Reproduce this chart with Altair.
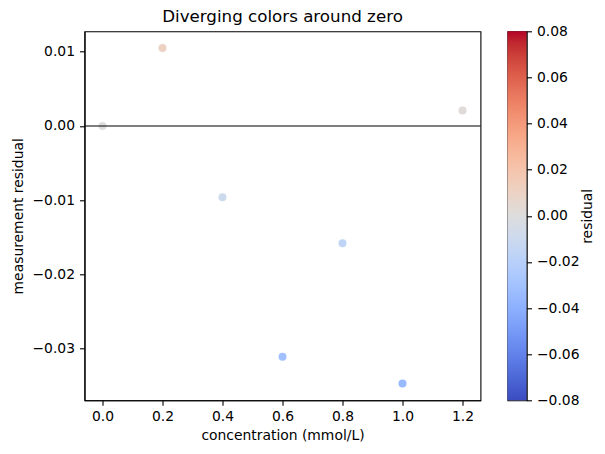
import altair as alt
import pandas as pd

# ---- data ----
concentration = [0.0, 0.2, 0.4, 0.6, 0.8, 1.0, 1.2]
residual = [0.0, 0.0105, -0.0096, -0.0311, -0.0158, -0.0347, 0.0021]
x_ticks = [0.0, 0.2, 0.4, 0.6, 0.8, 1.0, 1.2]
y_ticks = [-0.03, -0.02, -0.01, 0.0, 0.01]
cbar_ticks = [-0.08, -0.06, -0.04, -0.02, 0.0, 0.02, 0.04, 0.06, 0.08]
reference_level = [0.0]
color_limits = [-0.08, 0.08]

# ---- style: matplotlib "coolwarm" colormap stops ----
COOLWARM = [
    "#3b4cc0", "#445acc", "#4d68d7", "#5775e1", "#6282ea", "#6c8ef1", "#779af7",
    "#82a5fb", "#8db0fe", "#98b9ff", "#a3c2ff", "#aec9fd", "#b8d0f9", "#c2d5f4",
    "#ccd9ee", "#d5dbe6", "#dddddd", "#e5d8d1", "#ecd3c5", "#f1ccb8", "#f5c4ac",
    "#f7bb9f", "#f7b193", "#f7a686", "#f49a7b", "#f18d6f", "#ec7f63", "#e57059",
    "#de604d", "#d55042", "#cb3e38", "#c0282f", "#b40426",
]
n = len(COOLWARM)
cmap_domain = [color_limits[0] + (color_limits[1] - color_limits[0]) * i / (n - 1) for i in range(n)]
gradient = {
    "gradient": "linear",
    "x1": 0, "x2": 0, "y1": 1, "y2": 0,
    "stops": [{"offset": i / (n - 1), "color": c} for i, c in enumerate(COOLWARM)],
}

# matplotlib-like 5% margins
xlo, xhi = min(concentration), max(concentration)
xpad = 0.05 * (xhi - xlo)
ylo, yhi = min(residual), max(residual)
ypad = 0.05 * (yhi - ylo)

df = pd.DataFrame({"concentration": concentration, "residual": residual})
ref = pd.DataFrame({"residual": reference_level})
cbar_df = pd.DataFrame({"lo": [color_limits[0]], "hi": [color_limits[1]]})

FONT = "DejaVu Sans"
FS = 13.9

points = alt.Chart(df).mark_circle(size=64, opacity=1).encode(
    x=alt.X(
        "concentration:Q",
        scale=alt.Scale(domain=[xlo - xpad, xhi + xpad], nice=False, zero=False),
        axis=alt.Axis(values=x_ticks, format=".1f", title="concentration (mmol/L)"),
    ),
    y=alt.Y(
        "residual:Q",
        scale=alt.Scale(domain=[ylo - ypad, yhi + ypad], nice=False, zero=False),
        axis=alt.Axis(values=y_ticks, format=".2f", title="measurement residual"),
    ),
    color=alt.Color(
        "residual:Q",
        scale=alt.Scale(domain=cmap_domain, range=COOLWARM, interpolate="rgb"),
        legend=None,
    ),
)

rule = alt.Chart(ref).mark_rule(color="black", strokeWidth=1.1).encode(
    y=alt.Y("residual:Q", title="measurement residual")
)

main = alt.layer(points, rule).properties(
    width=396,
    height=369,
    title=alt.TitleParams(
        "Diverging colors around zero",
        fontSize=16.7,
        fontWeight="normal",
        font=FONT,
        color="black",
        anchor="middle",
        offset=6,
    ),
)

cbar = alt.Chart(cbar_df).mark_rect(color=gradient).encode(
    y=alt.Y(
        "lo:Q",
        scale=alt.Scale(domain=color_limits, nice=False, zero=False),
        axis=alt.Axis(
            orient="right",
            values=cbar_ticks,
            format=".2f",
            title="residual",
            titleAngle=270,
            titleBaseline="top",
            titlePadding=1,
        ),
    ),
    y2="hi:Q",
).properties(width=19, height=369)

chart = (
    alt.hconcat(main, cbar, spacing=24)
    .properties(padding={"left": 10.5, "top": 7.3, "right": 8, "bottom": 8})
    .configure(font=FONT)
    .configure_view(stroke="black", strokeWidth=1.1)
    .configure_axis(
        grid=False,
        domainColor="black",
        domainWidth=1.1,
        tickColor="black",
        tickWidth=1.1,
        labelColor="black",
        titleColor="black",
        labelFont=FONT,
        titleFont=FONT,
        labelFontSize=FS,
        titleFontSize=FS,
        titleFontWeight="normal",
        tickSize=5,
    )
    .configure_axisX(labelPadding=4, titlePadding=5)
    .configure_axisY(labelPadding=5, titlePadding=6)
)

chart.save("out.html", embed_options={"renderer": "svg", "actions": False})
